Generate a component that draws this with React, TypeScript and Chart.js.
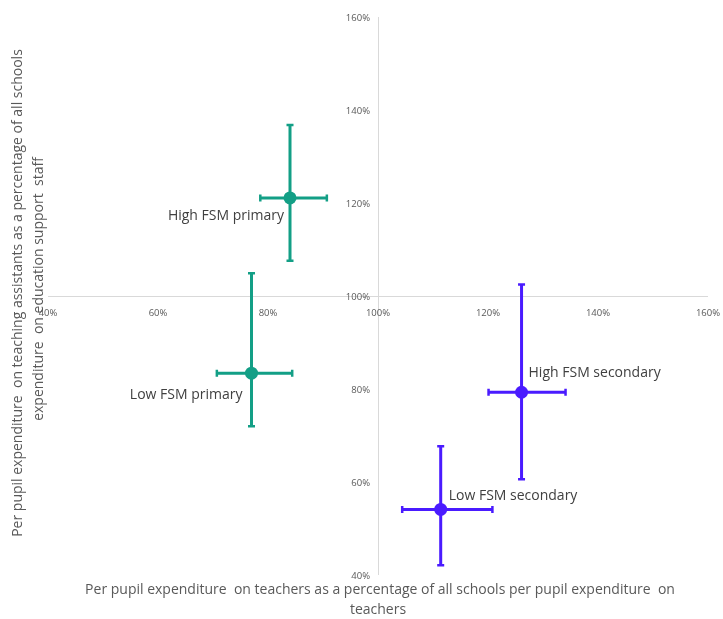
import { useEffect, useRef } from "react";
import { Chart, registerables } from "chart.js";

Chart.register(...registerables);

// Per-group values (percent of the all-schools figure)
const groups = ["High FSM primary", "Low FSM primary", "High FSM secondary", "Low FSM secondary"];
const phase = ["primary", "primary", "secondary", "secondary"];
const teacherPct = [84.0, 77.0, 126.1, 111.4];
const teacherLow = [78.6, 70.7, 120.1, 104.4];
const teacherHigh = [90.7, 84.4, 134.1, 120.8];
const assistantPct = [121.1, 83.4, 79.3, 54.1];
const assistantLow = [107.6, 72.0, 60.6, 42.1];
const assistantHigh = [136.8, 104.9, 102.5, 67.7];

const xTicks = [40, 60, 80, 100, 120, 140, 160];
const yTicks = [40, 60, 80, 100, 120, 140, 160];
const crossAt = 100;

const xTitle = [
  "Per pupil expenditure  on teachers as a percentage of all schools per pupil expenditure  on",
  "teachers",
];
const yTitle = [
  "Per pupil expenditure  on teaching assistants as a percentage of all schools",
  "expenditure  on education support  staff",
];

const phaseColor: Record<string, string> = {
  primary: "#139F86",
  secondary: "#4A1BFF",
};

// label offsets from the marker, in px: [dx, dy, align]
const labelPlacement: [number, number, CanvasTextAlign][] = [
  [-6, 18, "right"],
  [-9, 22, "right"],
  [7, -19, "left"],
  [8, -13, "left"],
];

const FONT = "'Open Sans', sans-serif";

const overlayPlugin = {
  id: "quadrantOverlay",
  beforeDatasetsDraw(chart: any) {
    const { ctx, scales, chartArea } = chart;
    const xs = scales.x;
    const ys = scales.y;
    const x0 = xs.getPixelForValue(crossAt);
    const y0 = ys.getPixelForValue(crossAt);
    ctx.save();
    // crossing axis lines
    ctx.strokeStyle = "#D9D9D9";
    ctx.lineWidth = 1;
    ctx.beginPath();
    ctx.moveTo(chartArea.left, Math.round(y0) + 0.5);
    ctx.lineTo(chartArea.right, Math.round(y0) + 0.5);
    ctx.moveTo(Math.round(x0) + 0.5, chartArea.top);
    ctx.lineTo(Math.round(x0) + 0.5, chartArea.bottom);
    ctx.stroke();

    // tick labels
    ctx.fillStyle = "#595959";
    ctx.font = `9.5px ${FONT}`;
    ctx.textBaseline = "middle";
    ctx.textAlign = "center";
    xTicks.forEach((v) => {
      ctx.fillText(`${v}%`, xs.getPixelForValue(v), y0 + 17);
    });
    ctx.textAlign = "right";
    yTicks.forEach((v) => {
      ctx.fillText(`${v}%`, x0 - 8, ys.getPixelForValue(v) + 1);
    });

    // axis titles
    ctx.font = `14px ${FONT}`;
    ctx.textAlign = "center";
    const cx = (chartArea.left + chartArea.right) / 2;
    ctx.fillText(xTitle[0], cx + 2, 590);
    ctx.fillText(xTitle[1], cx, 610);
    ctx.save();
    ctx.translate(0, 293);
    ctx.rotate(-Math.PI / 2);
    ctx.fillText(yTitle[0], 0, 18);
    ctx.fillText(yTitle[1], 4, 39);
    ctx.restore();

    // error bars with caps
    const cap = 3.5;
    groups.forEach((_, i) => {
      const color = phaseColor[phase[i]];
      const px = xs.getPixelForValue(teacherPct[i]);
      const py = ys.getPixelForValue(assistantPct[i]);
      const xl = xs.getPixelForValue(teacherLow[i]);
      const xh = xs.getPixelForValue(teacherHigh[i]);
      const yl = ys.getPixelForValue(assistantLow[i]);
      const yh = ys.getPixelForValue(assistantHigh[i]);
      ctx.strokeStyle = color;
      ctx.lineWidth = 3;
      ctx.lineCap = "butt";
      ctx.beginPath();
      ctx.moveTo(xl, py);
      ctx.lineTo(xh, py);
      ctx.moveTo(px, yl);
      ctx.lineTo(px, yh);
      ctx.stroke();
      ctx.lineWidth = 2.5;
      ctx.beginPath();
      ctx.moveTo(xl, py - cap);
      ctx.lineTo(xl, py + cap);
      ctx.moveTo(xh, py - cap);
      ctx.lineTo(xh, py + cap);
      ctx.moveTo(px - cap, yl);
      ctx.lineTo(px + cap, yl);
      ctx.moveTo(px - cap, yh);
      ctx.lineTo(px + cap, yh);
      ctx.stroke();
    });
    ctx.restore();
  },
  afterDatasetsDraw(chart: any) {
    const { ctx, scales } = chart;
    ctx.save();
    ctx.fillStyle = "#404040";
    ctx.font = `14px ${FONT}`;
    ctx.textBaseline = "middle";
    groups.forEach((name, i) => {
      const [dx, dy, align] = labelPlacement[i];
      ctx.textAlign = align;
      ctx.fillText(
        name,
        scales.x.getPixelForValue(teacherPct[i]) + dx,
        scales.y.getPixelForValue(assistantPct[i]) + dy
      );
    });
    ctx.restore();
  },
};

export default function App() {
  const canvasRef = useRef<HTMLCanvasElement | null>(null);

  useEffect(() => {
    document.body.style.margin = "0";
    const canvas = canvasRef.current;
    if (!canvas) return;

    const datasets = ["primary", "secondary"].map((p) => {
      const idx = groups.map((_, i) => i).filter((i) => phase[i] === p);
      return {
        label: p,
        data: idx.map((i) => ({ x: teacherPct[i], y: assistantPct[i] })),
        backgroundColor: phaseColor[p],
        borderColor: phaseColor[p],
        pointRadius: 6.5,
        pointHoverRadius: 6.5,
        borderWidth: 0,
      };
    });

    const chart = new Chart(canvas, {
      type: "scatter",
      data: { datasets },
      options: {
        animation: false,
        responsive: false,
        maintainAspectRatio: false,
        layout: { padding: { left: 48, right: 15, top: 17, bottom: 44 } },
        plugins: {
          legend: { display: false },
          tooltip: { enabled: false },
        },
        scales: {
          x: { type: "linear", min: 40, max: 160, display: false },
          y: { type: "linear", min: 40, max: 160, display: false },
        },
      },
      plugins: [overlayPlugin],
    });

    return () => chart.destroy();
  }, []);

  return (
    <div style={{ width: 723, height: 619, background: "#ffffff" }}>
      <canvas ref={canvasRef} width={723} height={619} />
    </div>
  );
}
